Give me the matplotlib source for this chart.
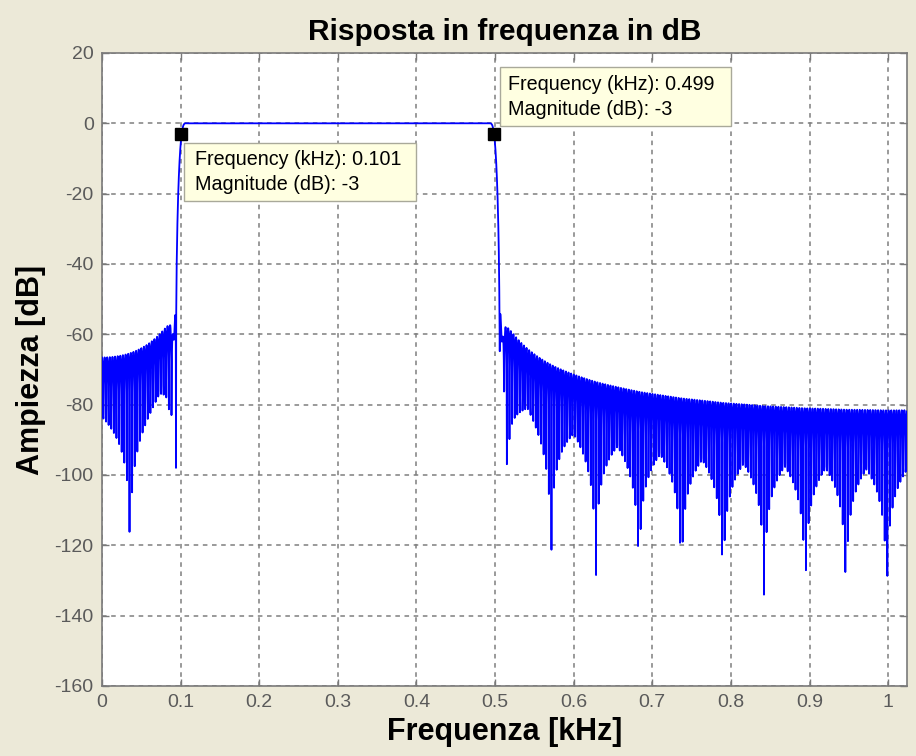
import numpy as np
import matplotlib.pyplot as plt
from matplotlib.patches import Rectangle

# band-pass FIR, window method (values in kHz)
fs = 2.048
f_lo = 0.1
f_hi = 0.5
order = 612
n_freq = 3394

# data tips shown on the plot
tip_freq = [0.101, 0.499]
tip_mag = [-3, -3]

x_ticks = [0, 0.1, 0.2, 0.3, 0.4, 0.5, 0.6, 0.7, 0.8, 0.9, 1.0]
x_labels = ['0', '0.1', '0.2', '0.3', '0.4', '0.5', '0.6', '0.7', '0.8', '0.9', '1']
y_ticks = [-160, -140, -120, -100, -80, -60, -40, -20, 0, 20]

# ideal band-pass impulse response times hamming window
k = np.arange(order + 1)
n = k - order / 2
h = (2 * f_hi / fs) * np.sinc(2 * f_hi / fs * n) - (2 * f_lo / fs) * np.sinc(2 * f_lo / fs * n)
h = h * np.hamming(order + 1)
fc = (f_lo + f_hi) / 2
h = h / abs(np.sum(h * np.exp(-2j * np.pi * fc / fs * k)))

# magnitude on n_freq points between 0 and fs/2 (like freqz)
H = np.fft.fft(h, 2 * n_freq)[:n_freq]
f = np.arange(n_freq) * fs / (2 * n_freq)
mag = 20 * np.log10(np.abs(H) + 1e-12)

plt.rcParams['font.family'] = ['Liberation Sans', 'DejaVu Sans']
plt.rcParams['axes.unicode_minus'] = False

bg = '#ece9d8'
fig = plt.figure(figsize=(9.16, 7.56), dpi=100, facecolor=bg)
ax = fig.add_axes([102 / 916, 1 - 686 / 756, 805 / 916, 633 / 756])
ax.set_facecolor('white')

ax.plot(f, mag, color='#0000ff', lw=1.3, zorder=3)
ax.plot(tip_freq, tip_mag, 's', color='black', ms=9, zorder=6)

ax.set_xlim(0, fs / 2)
ax.set_ylim(-160, 20)
ax.set_xticks(x_ticks)
ax.set_xticklabels(x_labels)
ax.set_yticks(y_ticks)

ax.grid(True, color='#7f7f7f', ls=(0, (3, 3)), lw=1.1, zorder=1)
ax.tick_params(direction='in', length=5, width=1, colors='#7a7a7a', labelcolor='#5a5a5a',
               labelsize=14, top=True, right=True, pad=6)
for s in ax.spines.values():
    s.set_color('#7a7a7a')
    s.set_linewidth(1.2)

ax.set_title('Risposta in frequenza in dB', fontsize=21.5, fontweight='bold', pad=9)
ax.set_xlabel('Frequenza [kHz]', fontsize=22, fontweight='bold', labelpad=4)
ax.set_ylabel('Ampiezza [dB]', fontsize=22, fontweight='bold', labelpad=6)

# data tip boxes
tips = [
    (0.1043, -22.1, 0.2947, 16.5, 0.1183),
    (0.506, -0.76, 0.294, 16.76, 0.5165),
]
for (x0, y0, w, hgt, xt), fr, mg in zip(tips, tip_freq, tip_mag):
    ax.add_patch(Rectangle((x0, y0), w, hgt, facecolor='#ffffe1', edgecolor='#a9a99a',
                           lw=1.0, zorder=7))
    ax.text(xt, y0 + hgt / 2, 'Frequency (kHz): %.3f\nMagnitude (dB): %d' % (fr, mg),
            fontsize=14.2, va='center', ha='left', linespacing=1.4, zorder=8)

fig.savefig('out.png', dpi=100, facecolor=bg)
